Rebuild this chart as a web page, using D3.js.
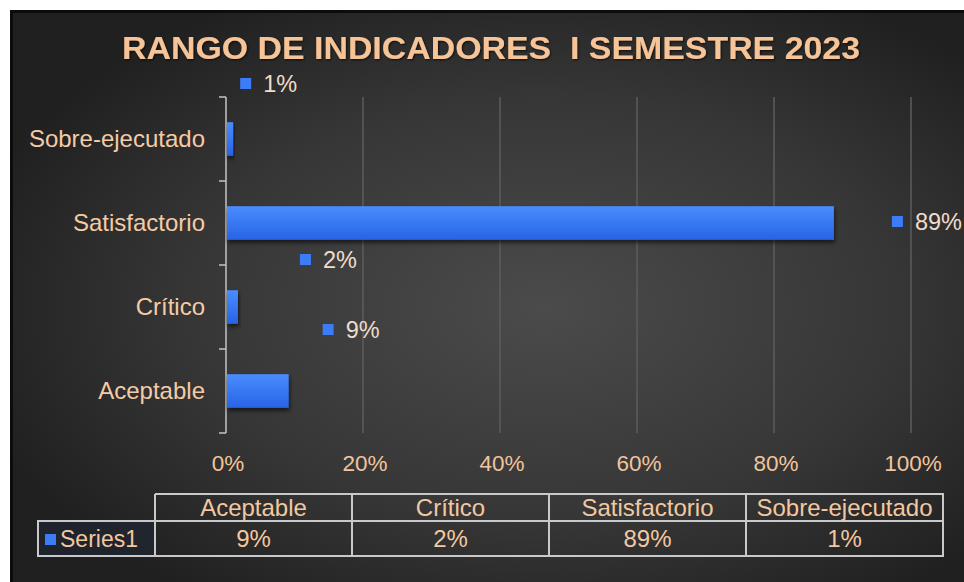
<!DOCTYPE html>
<html>
<head>
<meta charset="utf-8">
<script src="https://cdn.jsdelivr.net/npm/d3@7"></script>
<style>
  body { margin: 0; background: #fff; }
  svg { display: block; font-family: 'Liberation Sans', Arial, sans-serif; }
</style>
</head>
<body>
<svg id="chart" width="964" height="582"></svg>
<script>
// datos del gráfico
const titulo = 'RANGO DE INDICADORES  I SEMESTRE 2023';
const categorias = ['Aceptable', 'Crítico', 'Satisfactorio', 'Sobre-ejecutado'];
const valores = [0.090, 0.016, 0.886, 0.009];
const etiquetas = ['9%', '2%', '89%', '1%'];
const ticksX = [0, 0.2, 0.4, 0.6, 0.8, 1];
const serie = 'Series1';

// desplazamiento de las etiquetas (arrastradas a mano en el original)
const nudge = {
  'Aceptable': [35, -61],
  'Crítico': [63, -47],
  'Satisfactorio': [59, -1],
  'Sobre-ejecutado': [8, -55]
};

const svg = d3.select('#chart');
const defs = svg.append('defs');

const bg = defs.append('radialGradient').attr('id', 'bg')
  .attr('cx', '56%').attr('cy', '52%').attr('r', '62%');
bg.append('stop').attr('offset', '0%').attr('stop-color', '#4b4b4b');
bg.append('stop').attr('offset', '60%').attr('stop-color', '#363636');
bg.append('stop').attr('offset', '100%').attr('stop-color', '#202020');

const barGrad = defs.append('linearGradient').attr('id', 'bar')
  .attr('x1', 0).attr('y1', 0).attr('x2', 0).attr('y2', 1);
barGrad.append('stop').attr('offset', '0%').attr('stop-color', '#4a8dff');
barGrad.append('stop').attr('offset', '100%').attr('stop-color', '#2763e6');

const shadow = defs.append('filter').attr('id', 'sombra')
  .attr('x', '-10%').attr('y', '-20%').attr('width', '130%').attr('height', '160%');
shadow.append('feDropShadow').attr('dx', 1).attr('dy', 3).attr('stdDeviation', 2)
  .attr('flood-color', '#000').attr('flood-opacity', 0.6);

const tshadow = defs.append('filter').attr('id', 'tsombra');
tshadow.append('feDropShadow').attr('dx', 1).attr('dy', 1).attr('stdDeviation', 1)
  .attr('flood-color', '#000').attr('flood-opacity', 0.7);

// fondo
svg.append('rect').attr('x', 10).attr('y', 10).attr('width', 954).attr('height', 572)
  .attr('fill', 'url(#bg)');
svg.append('path').attr('d', 'M11.5,582V11.5H964').attr('fill', 'none')
  .attr('stroke', '#0c0c0c').attr('stroke-width', 3);

// título
svg.append('text')
  .attr('x', 491).attr('y', 59)
  .attr('text-anchor', 'middle')
  .attr('fill', '#f6c496')
  .attr('font-size', 31).attr('font-weight', 'bold')
  .attr('textLength', 738).attr('lengthAdjust', 'spacingAndGlyphs')
  .attr('filter', 'url(#tsombra)')
  .style('white-space', 'pre')
  .text(titulo);

// escalas
const orden = categorias.slice().reverse();
const y = d3.scaleBand().domain(orden).range([97, 433]).paddingInner(0.6).paddingOuter(0.3);
const x = d3.scaleLinear().domain([0, 1]).range([226, 911]);

// líneas de división
svg.append('g').selectAll('line').data(ticksX.slice(1)).join('line')
  .attr('x1', d => x(d)).attr('x2', d => x(d))
  .attr('y1', 97).attr('y2', 433)
  .attr('stroke', '#5c5c5c').attr('stroke-width', 1.5);

// eje de categorías
const ejeY = svg.append('g').attr('transform', `translate(${x(0)},0)`);
ejeY.append('line').attr('y1', 97).attr('y2', 433).attr('stroke', '#c4c4c4').attr('stroke-width', 1.5);
ejeY.selectAll('.tick').data(d3.range(orden.length + 1)).join('line')
  .attr('x1', -7).attr('x2', 0)
  .attr('y1', i => 97 + i * y.step()).attr('y2', i => 97 + i * y.step())
  .attr('stroke', '#c4c4c4').attr('stroke-width', 1.5);

svg.append('g').selectAll('text').data(orden).join('text')
  .attr('x', 205).attr('y', d => y(d) + y.bandwidth() / 2)
  .attr('dy', '0.35em')
  .attr('text-anchor', 'end')
  .attr('fill', '#f5cba6')
  .attr('font-size', 24)
  .text(d => d);

// eje de valores
svg.append('g').selectAll('text').data(ticksX).join('text')
  .attr('x', d => x(d) + 2).attr('y', 471)
  .attr('text-anchor', 'middle')
  .attr('fill', '#f2c49b')
  .attr('font-size', 22.5)
  .text(d => d3.format('.0%')(d));

// barras
const filas = categorias.map((c, i) => ({cat: c, val: valores[i], lab: etiquetas[i]}));
svg.append('g').selectAll('rect').data(filas).join('rect')
  .attr('x', x(0) + 1)
  .attr('y', d => y(d.cat))
  .attr('width', d => x(d.val) - x(0))
  .attr('height', y.bandwidth())
  .attr('fill', 'url(#bar)')
  .attr('filter', 'url(#sombra)');

// etiquetas de datos con clave de leyenda
const lab = svg.append('g').selectAll('g').data(filas).join('g')
  .attr('transform', d => `translate(${x(d.val) + nudge[d.cat][0]},${y(d.cat) + y.bandwidth() / 2 + nudge[d.cat][1]})`);
lab.append('rect').attr('x', 0).attr('y', -6).attr('width', 11).attr('height', 11)
  .attr('fill', '#3c7cf6');
lab.append('text').attr('x', 23).attr('dy', '0.35em')
  .attr('fill', '#f1dcc8').attr('font-size', 23.5)
  .text(d => d.lab);

// tabla de datos
const tx = d3.scaleBand().domain(categorias).range([155, 943]);
const tabla = svg.append('g');
const lineaT = '#c9c9c9';
tabla.append('rect').attr('x', 38).attr('y', 521).attr('width', 117).attr('height', 35)
  .attr('fill', '#1f2735').attr('fill-opacity', 0.6);
tabla.append('path')
  .attr('d', `M155,494H943V556H38V521H943M38,556V521M155,494V556` +
    categorias.slice(1).map(c => `M${tx(c)},494V556`).join(''))
  .attr('fill', 'none').attr('stroke', lineaT).attr('stroke-width', 2);

tabla.selectAll('.h').data(categorias).join('text')
  .attr('x', c => tx(c) + tx.bandwidth() / 2).attr('y', 508).attr('dy', '0.35em')
  .attr('text-anchor', 'middle').attr('fill', '#f3c8a0').attr('font-size', 24)
  .text(c => c);
tabla.selectAll('.v').data(filas).join('text')
  .attr('x', d => tx(d.cat) + tx.bandwidth() / 2).attr('y', 539).attr('dy', '0.35em')
  .attr('text-anchor', 'middle').attr('fill', '#f3c8a0').attr('font-size', 24)
  .text(d => d.lab);

tabla.append('rect').attr('x', 45).attr('y', 534).attr('width', 11).attr('height', 11)
  .attr('fill', '#3c7cf6');
tabla.append('text').attr('x', 60).attr('y', 539).attr('dy', '0.35em')
  .attr('fill', '#f3c8a0').attr('font-size', 23)
  .text(serie);
</script>
</body>
</html>
